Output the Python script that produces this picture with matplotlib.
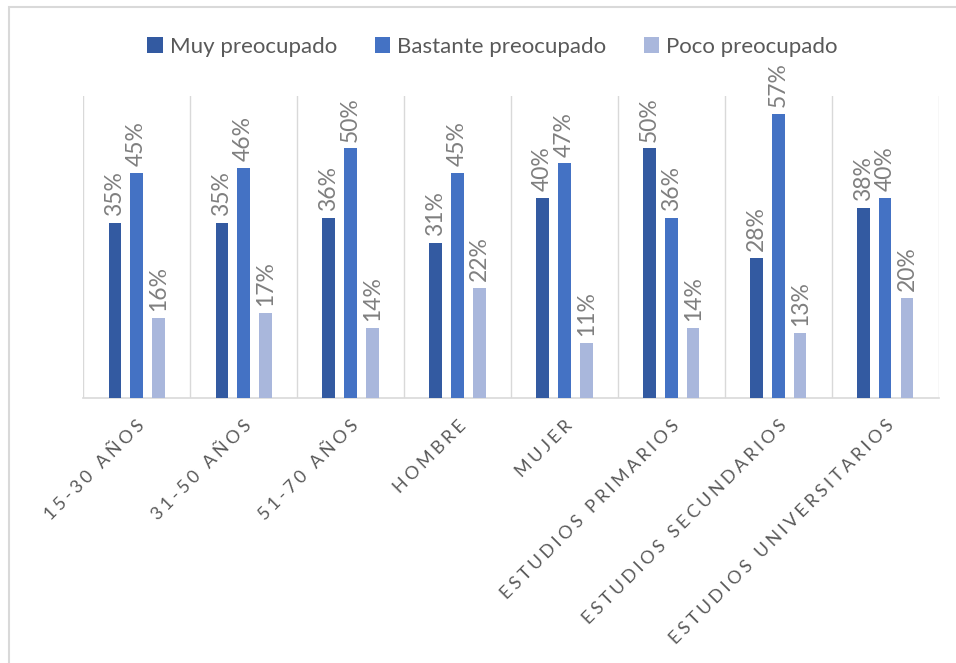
import numpy as np
import matplotlib.pyplot as plt
from matplotlib.patches import Rectangle

categorias = ["15-30 AÑOS", "31-50 AÑOS", "51-70 AÑOS", "HOMBRE", "MUJER",
              "ESTUDIOS PRIMARIOS", "ESTUDIOS SECUNDARIOS", "ESTUDIOS UNIVERSITARIOS"]
muy = [35, 35, 36, 31, 40, 50, 28, 38]
bastante = [45, 46, 50, 45, 47, 36, 57, 40]
poco = [16, 17, 14, 22, 11, 14, 13, 20]

series = [("Muy preocupado", muy, "#335aa1"),
          ("Bastante preocupado", bastante, "#4472c4"),
          ("Poco preocupado", poco, "#a9b7dc")]


def spaced(txt):
    #! letter spacing like the original
    return "\u2009\u200a".join(txt)


def main():
    plt.rcParams['font.family'] = ['Lato', 'DejaVu Sans']
    fig = plt.figure(figsize=(9.56, 6.63), dpi=100)
    ax = fig.add_axes([0.087, 0.40, 0.895, 0.455])

    x = np.arange(len(categorias))
    w = 0.115
    step = 0.205
    for i, (name, vals, col) in enumerate(series):
        pos = x + (i - 1) * step
        ax.bar(pos, vals, width=w, color=col, label=name, zorder=3)
        for p, v in zip(pos, vals):
            ax.annotate(f"{v}%", (p, v), xytext=(0, 5), textcoords="offset points",
                        rotation=90, ha="center", va="bottom", fontsize=16.5,
                        color="#7f7f7f")

    ax.set_xlim(-0.5, len(categorias) - 0.5)
    ax.set_ylim(0, 60.5)
    ax.set_yticks([])
    # separators between categories
    for b in np.arange(-0.5, len(categorias), 1.0):
        ax.axvline(b, color="#d9d9d9", lw=1, zorder=1)
    for s in ["top", "right", "left"]:
        ax.spines[s].set_visible(False)
    ax.spines["bottom"].set_color("#d9d9d9")
    ax.spines["bottom"].set_linewidth(1.2)
    ax.set_xticks(x)
    ax.set_xticklabels([spaced(c) for c in categorias], rotation=45, ha="right",
                       rotation_mode="anchor", fontsize=13, color="#595959")
    ax.tick_params(axis="x", length=0, pad=14)

    fig.legend(loc="upper center", bbox_to_anchor=(0.515, 0.975), ncol=3,
               frameon=False, fontsize=16, handlelength=0.7, handleheight=0.7,
               columnspacing=1.7, handletextpad=0.3, labelcolor="#595959")

    fig.patches.append(Rectangle((0.009, -0.05), 1.2, 1.0387, transform=fig.transFigure,
                                 fill=False, edgecolor="#d9d9d9", lw=1.5))
    fig.savefig("out.png", dpi=100)


if __name__ == "__main__":
    main()
